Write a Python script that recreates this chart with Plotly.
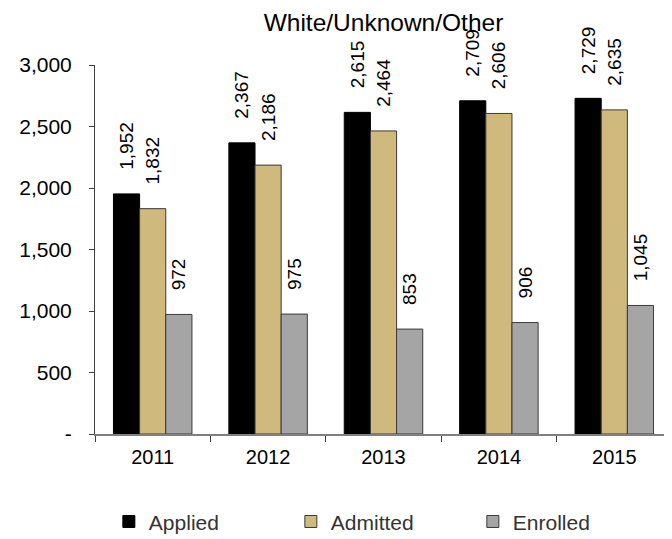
import plotly.graph_objects as go

years = ["2011", "2012", "2013", "2014", "2015"]
applied = [1952, 2367, 2615, 2709, 2729]
admitted = [1832, 2186, 2464, 2606, 2635]
enrolled = [972, 975, 853, 906, 1045]
tick_vals = [0, 500, 1000, 1500, 2000, 2500, 3000]
tick_text = ["-", "500", "1,000", "1,500", "2,000", "2,500", "3,000"]

series = [
    ("Applied", applied, "#000000", "#000000"),
    ("Admitted", admitted, "#CFB97C", "#3a3a3a"),
    ("Enrolled", enrolled, "#A5A5A5", "#3a3a3a"),
]

PAD = "\u00a0" * 4

fig = go.Figure()
for name, vals, color, line in series:
    fig.add_trace(go.Bar(
        name=name, x=years, y=vals,
        marker=dict(color=color, line=dict(color=line, width=1)),
        text=[PAD + f"{v:,}" for v in vals], textposition="outside",
        textangle=-90, constraintext="none",
        textfont=dict(size=19, color="#000000", family="Liberation Sans"),
        cliponaxis=False,
    ))

fig.update_layout(
    width=664, height=531,
    margin=dict(l=87, r=0, t=57, b=105, autoexpand=False),
    paper_bgcolor="white", plot_bgcolor="white",
    barmode="group", bargap=0.32, bargroupgap=0,
    font=dict(family="Liberation Sans", size=20, color="#000000"),
    title=dict(text="White/Unknown/Other", xref="paper", x=0.5, xanchor="center",
               y=0.973, yanchor="middle",
               font=dict(size=24.5, family="Liberation Sans")),
    showlegend=True,
    legend=dict(orientation="h", x=0.024, xanchor="left", y=-0.238, yanchor="middle",
                entrywidth=137, entrywidthmode="pixels",
                font=dict(size=21, family="Liberation Sans", color="#333333")),
)
fig.update_xaxes(
    showline=True, linecolor="#808080", linewidth=2,
    ticks="outside", tickson="boundaries", ticklen=6, tickcolor="#404040",
    ticklabelstandoff=4, tickfont=dict(size=20), showgrid=False, automargin=False,
)
fig.update_yaxes(
    range=[0, 3000], tickvals=tick_vals, ticktext=tick_text,
    showline=True, linecolor="#404040", linewidth=1,
    ticks="outside", ticklen=5, tickcolor="#404040",
    ticklabelstandoff=13, tickfont=dict(size=21),
    showgrid=False, zeroline=False, automargin=False,
)
fig.write_html("out.html")
